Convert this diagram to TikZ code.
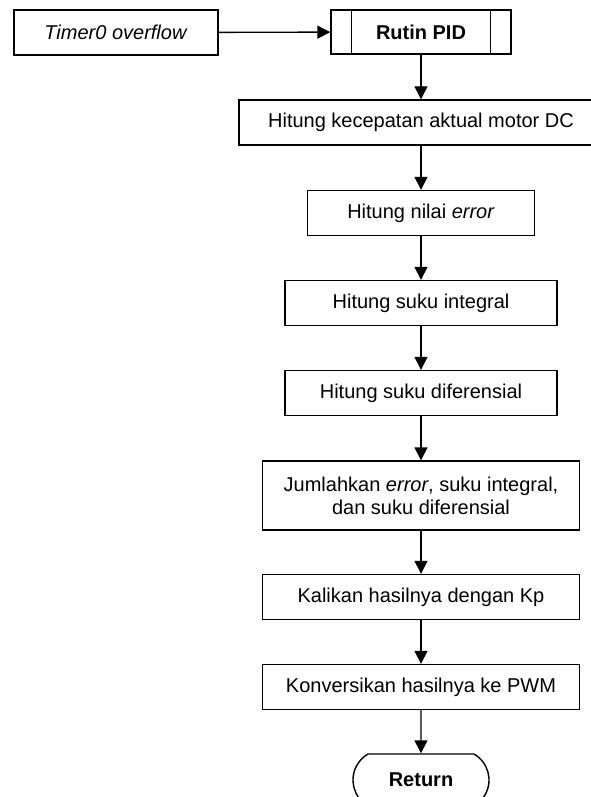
\documentclass[tikz,border=0pt]{standalone}
\usepackage{fontspec}
\setmainfont{Liberation Sans}
\usetikzlibrary{arrows.meta, shapes.misc, positioning}

\begin{document}
\begin{tikzpicture}[x=1pt, y=-1pt, line width=1.4pt,
    every node/.style={font=\fontsize{20}{23}\selectfont},
    process/.style={draw, rectangle, minimum height=45pt, align=center, inner sep=0pt},
    terminal/.style={draw, rounded rectangle, rounded rectangle arc length=120, minimum width=136pt, minimum height=52pt, inner sep=0pt},
    flow/.style={-{Triangle[length=13pt, width=13pt]}}]
    \useasboundingbox (0,0) rectangle (591,797);
    % Interrupt and subroutine
    \node[process, minimum width=204pt] at (116, 32.5) (timer) {\textit{Timer0 overflow}};
    \node[process, minimum width=180pt, minimum height=44pt] at (421, 32) (pid) {\textbf{Rutin PID}};
    \draw ([xshift=21pt]pid.north west) -- ([xshift=21pt]pid.south west);
    \draw ([xshift=-21pt]pid.north east) -- ([xshift=-21pt]pid.south east);
    
    % Steps
    \node[process, minimum width=364pt] at (421, 122.5) (speed) {Hitung kecepatan aktual motor DC};
    \node[process, minimum width=227pt] at (421, 213) (err) {Hitung nilai \textit{error}};
    \node[process, minimum width=272pt] at (421, 303) (integ) {Hitung suku integral};
    \node[process, minimum width=272pt] at (421, 393) (diff) {Hitung suku diferensial};
    \node[process, minimum width=317pt, minimum height=69pt] at (421, 495.5) (sum) {Jumlahkan \textit{error}, suku integral,\\ dan suku diferensial};
    \node[process, minimum width=317pt] at (421, 597) (kp) {Kalikan hasilnya dengan Kp};
    \node[process, minimum width=317pt] at (421, 687) (pwm) {Konversikan hasilnya ke PWM};
    \node[terminal] at (421, 780) (ret) {\textbf{Return}};
    
    % Wiring
    \draw[flow] (timer) -- (pid);
    \foreach \from/\to in {pid/speed, speed/err, err/integ, integ/diff, diff/sum, sum/kp, kp/pwm, pwm/ret}
        \draw[flow] (\from) -- (\to);
\end{tikzpicture}
\end{document}
